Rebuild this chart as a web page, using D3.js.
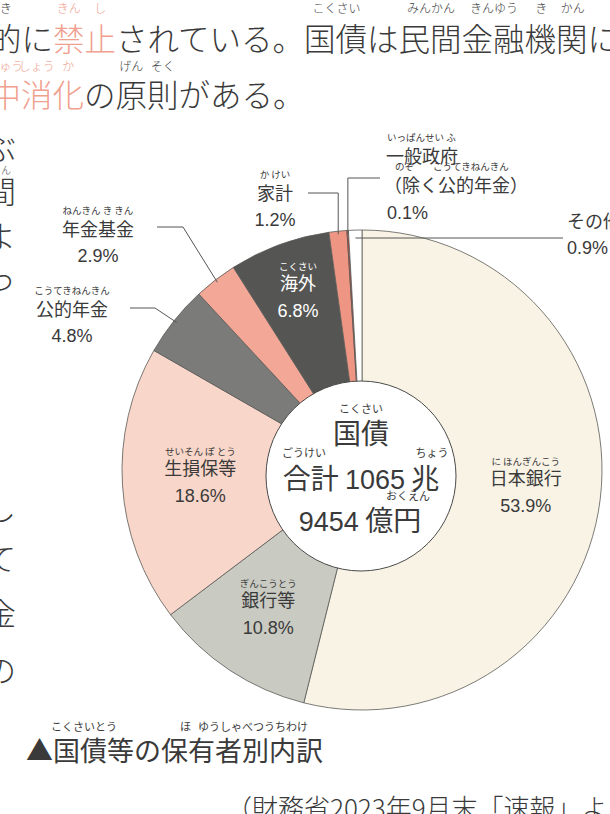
<html>
<head>
<meta charset="utf-8">
<title>国債等の保有者別内訳</title>
<script src="https://cdn.jsdelivr.net/npm/d3@7"></script>
<style>
  body { margin: 0; background: #fff; }
  svg { display: block; }
  .jp { font-family: "Noto Sans CJK JP", sans-serif; }
  .body { font-weight: 300; }
  .num { font-family: "Liberation Sans", Arial, sans-serif; }
</style>
</head>
<body>
<div id="chart"></div>
<script>
  // 保有者別内訳（％）
  const holders = ["日本銀行", "銀行等", "生損保等", "公的年金", "年金基金", "海外", "家計", "一般政府", "その他"];
  const holderRuby = ["に ほんぎんこう", "ぎんこうとう", "せいそん ぽ とう", "こうてきねんきん", "ねんきん き きん", "こくさい", "か けい", "いっぱんせい ふ", ""];
  const shares = [53.9, 10.8, 18.6, 4.8, 2.9, 6.8, 1.2, 0.1, 0.9];
  const fills = ["#f8f3e5", "#c9cac2", "#f8d6c9", "#7b7c79", "#f2a797", "#555654", "#ee9683", "#d8463a", "#ffffff"];
  const insideLabels = ["日本銀行", "銀行等", "生損保等", "海外"];

  const width = 610, height = 814;
  const cx = 362, cy = 470, R = 240;

  const svg = d3.select("#chart").append("svg")
    .attr("width", width)
    .attr("height", height);

  const ink = "#3a3a3a", salmon = "#f0a08e";

  // 本文（上部）
  function rubyText(x, y, txt, size, color) {
    return svg.append("text").attr("class", "jp body")
      .attr("x", x).attr("y", y)
      .attr("font-size", size)
      .attr("text-anchor", "middle")
      .attr("fill", color || ink)
      .text(txt);
  }

  const fs = 31.5;
  const line1 = svg.append("text").attr("class", "jp body")
    .attr("x", -10).attr("y", 51).attr("font-size", fs).attr("fill", ink);
  line1.append("tspan").text("的に");
  line1.append("tspan").attr("fill", salmon).text("禁止");
  line1.append("tspan").text("されている。国債は民間金融機関に");

  const line2 = svg.append("text").attr("class", "jp body")
    .attr("x", -42).attr("y", 107).attr("font-size", fs).attr("fill", ink);
  line2.append("tspan").attr("fill", salmon).text("市中消化");
  line2.append("tspan").text("の原則がある。");

  // ルビ
  const x1 = i => -10 + fs * (i + 0.5);
  rubyText(x1(0), 13, "き", 12);
  rubyText(x1(2), 13, "きん", 12, salmon);
  rubyText(x1(3), 13, "し", 12, salmon);
  rubyText((x1(10) + x1(11)) / 2, 13, "こくさい", 12);
  rubyText((x1(13) + x1(14)) / 2, 13, "みんかん", 12);
  rubyText((x1(15) + x1(16)) / 2, 13, "きんゆう", 12);
  rubyText(x1(17), 13, "き", 12);
  rubyText(x1(18), 13, "かん", 12);
  const x2 = i => -42 + fs * (i + 0.5);
  rubyText(x2(1), 71, "ちゅう", 12, salmon);
  rubyText(x2(2), 71, "しょう", 12, salmon);
  rubyText(x2(3), 71, "か", 12, salmon);
  rubyText(x2(5), 71, "げん", 12);
  rubyText(x2(6), 71, "そく", 12);

  // 左端の本文の切れ端
  const leftBits = [["ぶ", 160], ["間", 203], ["よ", 248], ["っ", 290], ["、", 345], ["、", 405], ["し", 520], ["て", 570], ["金", 625], ["の", 682], ["〕", 745]];
  svg.selectAll(".bit").data(leftBits).join("text")
    .attr("class", "jp body bit")
    .attr("x", -15).attr("y", d => d[1])
    .attr("font-size", 31).attr("fill", ink)
    .text(d => d[0]);
  rubyText(6, 174, "ん", 10);

  // 円グラフ
  const pie = d3.pie().sort(null).value(d => d.value)
    .startAngle(0).endAngle(2 * Math.PI);
  const data = holders.map((h, i) => ({ name: h, ruby: holderRuby[i], value: shares[i], fill: fills[i] }));
  const arcs = pie(data);
  const arc = d3.arc().innerRadius(0).outerRadius(R);

  const g = svg.append("g").attr("transform", `translate(${cx},${cy})`);
  g.selectAll("path.slice").data(arcs).join("path")
    .attr("class", "slice")
    .attr("d", arc)
    .attr("fill", d => d.data.fill)
    .attr("stroke", "#5a5a58")
    .attr("stroke-width", 0.8);

  // 中央の円
  svg.append("circle")
    .attr("cx", 361).attr("cy", 476).attr("r", 95)
    .attr("fill", "#fff").attr("stroke", "#4a4a4a").attr("stroke-width", 1);

  const center = svg.append("g").attr("class", "jp").attr("fill", ink).attr("text-anchor", "middle");
  center.append("text").attr("x", 361).attr("y", 413).attr("font-size", 11).text("こくさい");
  center.append("text").attr("x", 361).attr("y", 444).attr("font-size", 28).text("国債");
  center.append("text").attr("x", 304).attr("y", 457).attr("font-size", 11).text("ごうけい");
  center.append("text").attr("x", 432).attr("y", 457).attr("font-size", 11).text("ちょう");
  const t1 = center.append("text").attr("x", 361).attr("y", 489).attr("font-size", 28);
  t1.append("tspan").text("合計 ");
  t1.append("tspan").attr("class", "num").attr("font-size", 27).text("1065");
  t1.append("tspan").text(" 兆");
  center.append("text").attr("x", 408).attr("y", 500).attr("font-size", 11).text("おくえん");
  const t2 = center.append("text").attr("x", 360).attr("y", 531).attr("font-size", 28);
  t2.append("tspan").attr("class", "num").attr("font-size", 27).text("9454");
  t2.append("tspan").text(" 億円");

  // 扇形の内側ラベル
  const labelR = { "日本銀行": 165, "銀行等": 170, "生損保等": 162, "海外": 186 };
  const inner = arcs.filter(d => insideLabels.includes(d.data.name));
  const il = g.selectAll("g.inlabel").data(inner).join("g")
    .attr("class", "inlabel jp")
    .attr("text-anchor", "middle")
    .attr("fill", d => d.data.name === "海外" ? "#fff" : ink)
    .attr("transform", d => {
      const a = (d.startAngle + d.endAngle) / 2, r = labelR[d.data.name];
      return `translate(${r * Math.sin(a)},${-r * Math.cos(a)})`;
    });
  il.append("text").attr("y", -25).attr("font-size", 9.5).text(d => d.data.ruby);
  il.append("text").attr("y", -5).attr("font-size", 18).text(d => d.data.name);
  il.append("text").attr("class", "num").attr("y", 22).attr("font-size", 18)
    .text(d => d.data.value.toFixed(1) + "%");

  // 引き出し線つきラベル
  const callouts = {
    "公的年金": { x: 72, y: 316, lx: 130, ly: 308, ex: 155, anchor: "middle" },
    "年金基金": { x: 98, y: 236, lx: 157, ly: 227, ex: 183, anchor: "middle" },
    "家計": { x: 275, y: 200, lx: 308, ly: 193, anchor: "middle" },
    "一般政府": { x: 387, y: 163, lx: 380, ly: 178, anchor: "start" },
    "その他": { x: 567, y: 228, lx: 563, ly: 238, anchor: "start" }
  };
  const outer = arcs.filter(d => callouts[d.data.name]);
  const line = d3.line();
  outer.forEach(d => {
    const c = callouts[d.data.name];
    const a = (d.startAngle + d.endAngle) / 2;
    const rr = d.data.name === "その他" ? R - 8 : R - 3;
    const px = cx + rr * Math.sin(a), py = cy - rr * Math.cos(a);
    let pts;
    if (d.data.name === "その他") pts = [[px, c.ly], [c.lx, c.ly]];
    else if (c.ex) pts = [[c.lx, c.ly], [c.ex, c.ly], [px, py]];
    else pts = [[c.lx, c.ly], [px, c.ly], [px, py]];
    svg.append("path").attr("d", line(pts))
      .attr("fill", "none").attr("stroke", "#555").attr("stroke-width", 1);

    const t = svg.append("g").attr("class", "jp").attr("fill", ink).attr("text-anchor", c.anchor);
    if (d.data.name === "一般政府") {
      t.append("text").attr("x", 387).attr("y", 141).attr("font-size", 9.5).text(d.data.ruby);
      t.append("text").attr("x", 386).attr("y", 163).attr("font-size", 18).text("一般政府");
      t.append("text").attr("x", 395).attr("y", 170).attr("font-size", 9.5).text("のぞ　　こうてきねんきん");
      t.append("text").attr("x", 384).attr("y", 192).attr("font-size", 18).text("（除く公的年金）");
      t.append("text").attr("class", "num").attr("x", 387).attr("y", 219).attr("font-size", 18)
        .text(d.data.value.toFixed(1) + "%");
    } else {
      if (d.data.ruby) t.append("text").attr("x", c.x).attr("y", c.y - 22).attr("font-size", 9.5).text(d.data.ruby);
      t.append("text").attr("x", c.x).attr("y", c.y).attr("font-size", 18).text(d.data.name);
      t.append("text").attr("class", "num").attr("x", c.x).attr("y", c.y + 26).attr("font-size", 18)
        .text(d.data.value.toFixed(1) + "%");
    }
  });

  // 図のタイトルと出典
  const cap = svg.append("g").attr("class", "jp").attr("fill", ink);
  cap.append("text").attr("x", 26).attr("y", 761).attr("font-size", 27).text("▲国債等の保有者別内訳");
  cap.append("text").attr("x", 84).attr("y", 731).attr("font-size", 11).attr("text-anchor", "middle").text("こくさいとう");
  cap.append("text").attr("x", 180).attr("y", 731).attr("font-size", 11).text("ほ");
  cap.append("text").attr("x", 198).attr("y", 731).attr("font-size", 11).text("ゆうしゃべつうちわけ");
  cap.append("text").attr("class", "body").attr("x", 226).attr("y", 818).attr("font-size", 26).text("（財務省2023年9月末「速報」より）");
</script>
</body>
</html>
